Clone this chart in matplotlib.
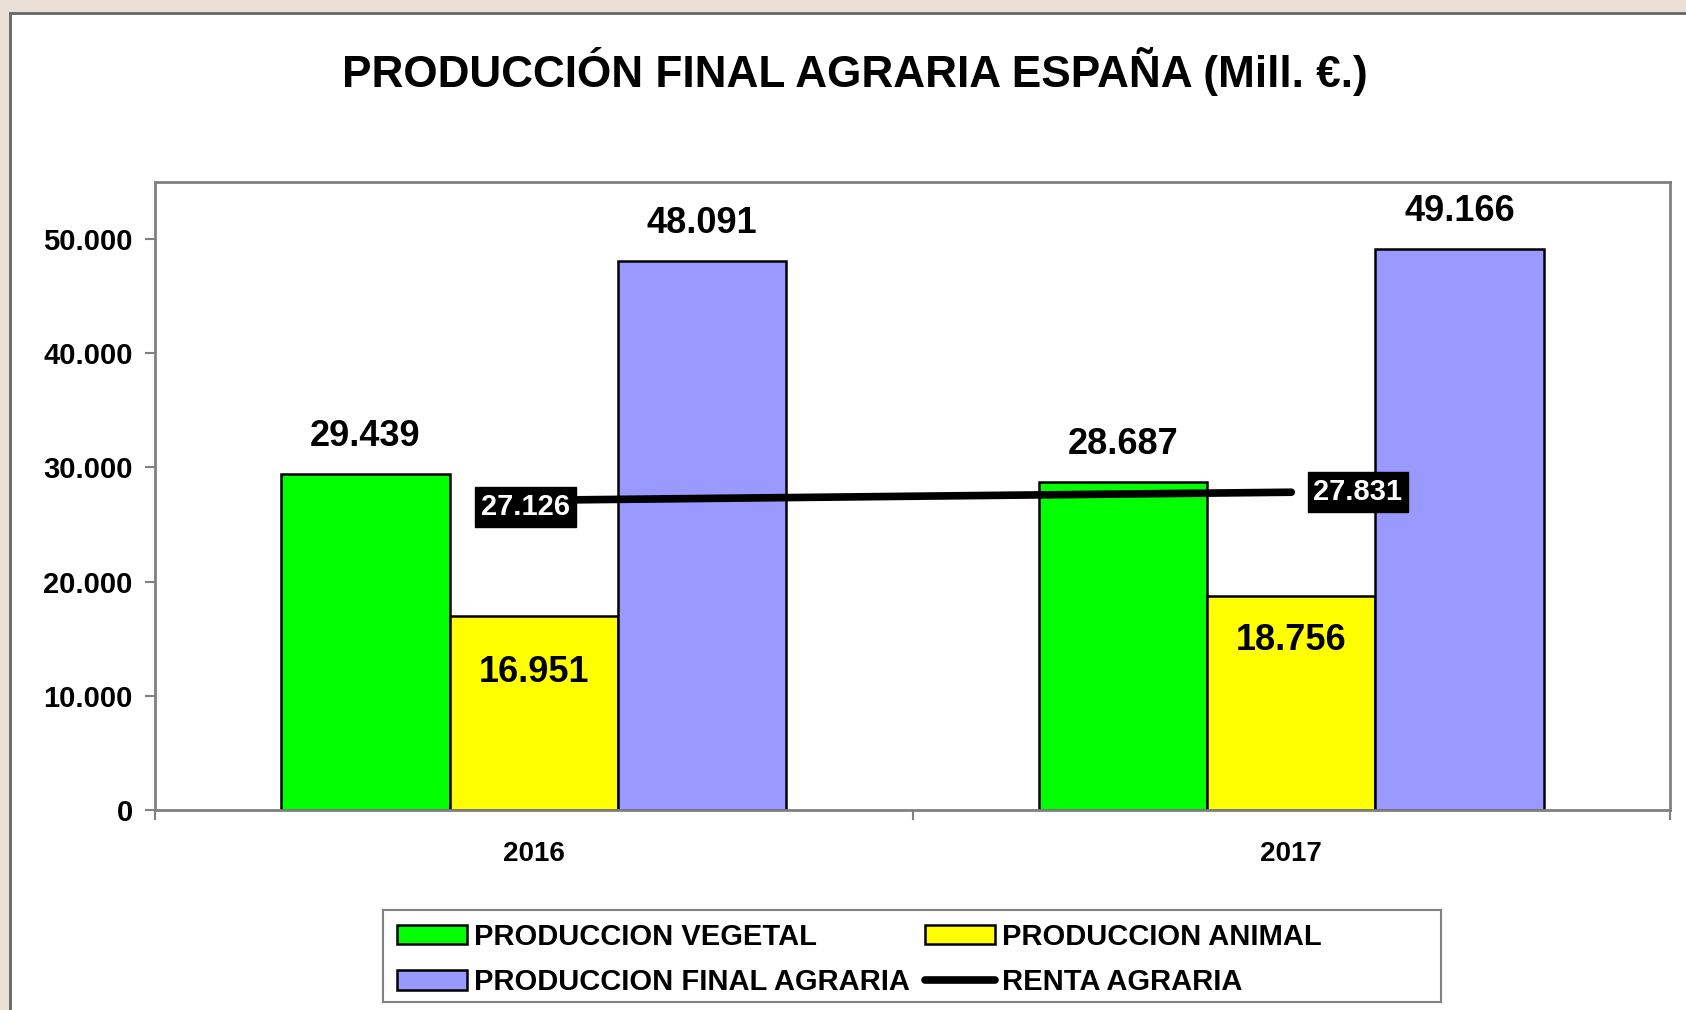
import numpy as np
import matplotlib
matplotlib.use("Agg")
import matplotlib.pyplot as plt
from matplotlib.patches import Rectangle

plt.rcParams['font.family'] = ['Liberation Sans', 'DejaVu Sans']
plt.rcParams['font.weight'] = 'bold'

# datos (Mill. EUR)
years = ['2016', '2017']
prod_vegetal = [29439, 28687]
prod_animal = [16951, 18756]
prod_final = [48091, 49166]
renta = [27126, 27831]

series_names = ['PRODUCCION VEGETAL', 'PRODUCCION ANIMAL',
                'PRODUCCION FINAL AGRARIA', 'RENTA AGRARIA']
colors = ['#00ff00', '#ffff00', '#9999ff']


def fmt(v):
    # separador de miles con punto
    return '{:,}'.format(int(v)).replace(',', '.')


fig = plt.figure(figsize=(16.86, 10.10), dpi=100)
fig.patch.set_facecolor('#e9dfd7')
# marco blanco del grafico
fig.patches.append(Rectangle((10 / 1686, -0.1), 1.1, 1.1 - 13 / 1010,
                             transform=fig.transFigure, facecolor='white',
                             edgecolor='#666666', lw=2, zorder=-2))
# marco de la leyenda
fig.patches.append(Rectangle((383 / 1686, 1 - 1002 / 1010), (1441 - 383) / 1686, 92 / 1010,
                             transform=fig.transFigure, facecolor='white',
                             edgecolor='#808080', lw=1.5, zorder=-1))

ax = fig.add_axes([155 / 1686, 1 - 810 / 1010, (1670 - 155) / 1686, (810 - 182) / 1010])
ax.set_facecolor('white')

x = np.arange(len(years))
w = 0.2222
b1 = ax.bar(x - w, prod_vegetal, w, color=colors[0], edgecolor='black', lw=1.8,
            label=series_names[0], zorder=2)
b2 = ax.bar(x, prod_animal, w, color=colors[1], edgecolor='black', lw=1.8,
            label=series_names[1], zorder=2)
b3 = ax.bar(x + w, prod_final, w, color=colors[2], edgecolor='black', lw=1.8,
            label=series_names[2], zorder=2)
ln, = ax.plot(x, renta, color='black', lw=5.5, solid_capstyle='round',
              label=series_names[3], zorder=4)

# etiquetas de las barras
for bars, vals in ((b1, prod_vegetal), (b3, prod_final)):
    for r, v in zip(bars, vals):
        ax.annotate(fmt(v), (r.get_x() + r.get_width() / 2, v), xytext=(0, 27),
                    textcoords='offset points', ha='center', va='center',
                    fontsize=26, fontweight='bold', zorder=5)
inner_off = [-40, -32]
for r, v, off in zip(b2, prod_animal, inner_off):
    ax.annotate(fmt(v), (r.get_x() + r.get_width() / 2, v), xytext=(0, off),
                textcoords='offset points', ha='center', va='center',
                fontsize=26, fontweight='bold', zorder=5)

# etiquetas renta
renta_off = [(-6, -5), (48, 0)]
for xi, v, off in zip(x, renta, renta_off):
    ax.annotate(fmt(v), (xi, v), xytext=off, textcoords='offset points',
                ha='center', va='center', fontsize=21, fontweight='bold',
                color='white', zorder=6,
                bbox=dict(boxstyle='square,pad=0.2', fc='black', ec='black'))

ax.set_xlim(-0.5, 1.5)
ax.set_ylim(0, 55000)
ax.set_yticks(np.arange(0, 50001, 10000))
ax.set_yticklabels([fmt(t) for t in np.arange(0, 50001, 10000)])
ax.set_xticks([-0.5, 0.5, 1.5])
ax.set_xticklabels([])
ax.set_xticks(x, minor=True)
ax.set_xticklabels(years, minor=True)
ax.tick_params(axis='x', which='minor', length=0, pad=22, labelsize=20)
ax.tick_params(axis='x', which='major', length=7, width=1.5, color='#808080')
ax.tick_params(axis='y', length=7, width=1.5, color='#808080', labelsize=21, pad=9)
for s in ax.spines.values():
    s.set_color('#808080')
    s.set_linewidth(2)

fig.text(855 / 1686, 1 - 71 / 1010, 'PRODUCCIÓN FINAL AGRARIA ESPAÑA (Mill. €.)',
         ha='center', va='center', fontsize=31.8, fontweight='bold')

leg = fig.legend([b1, b3, b2, ln],
                 [series_names[0], series_names[2], series_names[1], series_names[3]],
                 ncol=2, loc='upper left', bbox_to_anchor=(388 / 1686, 1 - 914 / 1010),
                 bbox_transform=fig.transFigure, fontsize=21, frameon=False,
                 handlelength=2.4, handleheight=0.65, handletextpad=0.25,
                 columnspacing=0.5, borderpad=0.3, labelspacing=0.6,
                 borderaxespad=0)
for t in leg.get_texts():
    t.set_fontweight('bold')

fig.savefig('out.png', dpi=100, facecolor=fig.get_facecolor())
